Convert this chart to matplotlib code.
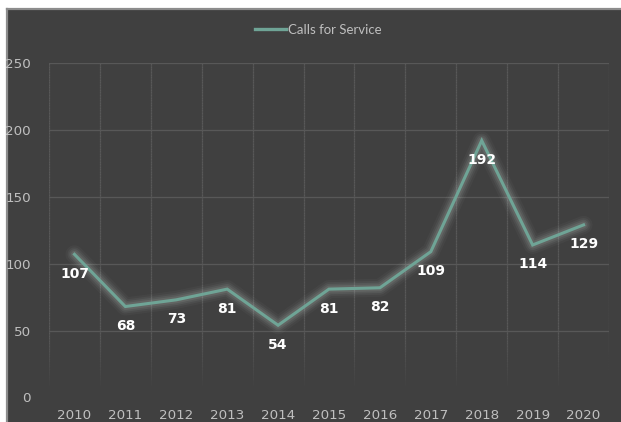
import matplotlib
matplotlib.use("Agg")
import matplotlib.pyplot as plt
from matplotlib.patches import Rectangle
from matplotlib.lines import Line2D
from matplotlib.collections import LineCollection
import numpy as np

years = ["2010", "2011", "2012", "2013", "2014", "2015",
         "2016", "2017", "2018", "2019", "2020"]
calls = [107, 68, 73, 81, 54, 81, 82, 109, 192, 114, 129]
y_ticks = [0, 50, 100, 150, 200, 250]

W, H = 621, 422
fig = plt.figure(figsize=(W / 100, H / 100), dpi=100, facecolor="white")

# dark chart panel with a light border on the left and top
px0, py1 = 7 / W, 1 - 9 / H
fig.patches.append(Rectangle((px0, 0), 1 - px0, py1, transform=fig.transFigure,
                             facecolor="#404040", edgecolor="none", zorder=-10))
fig.lines.append(Line2D([px0, px0], [0, py1], transform=fig.transFigure,
                        color="#8c8c8c", lw=1.6, zorder=-9))
fig.lines.append(Line2D([px0, 1], [py1, py1], transform=fig.transFigure,
                        color="#8c8c8c", lw=1.6, zorder=-9))

ax = fig.add_axes([49 / W, 1 - 397.5 / H, (609 - 49) / W, (397.5 - 63) / H])
ax.set_zorder(1)
ax.set_facecolor("none")
for s in ax.spines.values():
    s.set_visible(False)

x = np.arange(len(years))
ax.set_xlim(-0.5, len(years) - 0.5)
ax.set_ylim(0, 250)

grid_col = "#585858"
# horizontal gridlines
for yv in y_ticks[1:]:
    ax.axhline(yv, color=grid_col, lw=0.9, zorder=1)

# vertical category separators that fade out toward the bottom
ys = np.linspace(6, 250, 200)
for b in np.arange(-0.5, len(years), 1.0):
    segs = [[(b, ys[i]), (b, ys[i + 1])] for i in range(len(ys) - 1)]
    alphas = np.clip((ys[:-1] - 6) / 40, 0, 1)
    cols = [(0x58 / 255, 0x58 / 255, 0x58 / 255, a) for a in alphas]
    ax.add_collection(LineCollection(segs, colors=cols, lw=0.9, zorder=1))

# soft glow under the line
for w, a in [(13, 0.035), (10, 0.05), (7.5, 0.07), (5, 0.09)]:
    ax.plot(x, calls, color="#dfe9e5", lw=w, alpha=a, solid_capstyle="round",
            solid_joinstyle="round", zorder=2)
line_col = "#6fa496"
ax.plot(x, calls, color=line_col, lw=2.2, solid_joinstyle="miter", zorder=3,
        label="Calls for Service")

# value labels under each point
for xi, v in zip(x, calls):
    ax.annotate(str(v), (xi, v), xytext=(0, -14), textcoords="offset points",
                ha="center", va="center", color="white", fontsize=10,
                fontweight="bold", family="DejaVu Sans", zorder=4)

ax.set_xticks(x)
ax.set_xticklabels(years)
ax.set_yticks(y_ticks)
ax.tick_params(axis="both", length=0, colors="#bfbfbf", labelsize=9.7)
ax.tick_params(axis="x", pad=8)
ax.tick_params(axis="y", pad=13)

leg = fig.legend(handles=[Line2D([], [], color=line_col, lw=2.4)],
                 labels=["Calls for Service"], loc="center",
                 bbox_to_anchor=(318 / W, 1 - 29.5 / H), frameon=False,
                 handlelength=2.4, handletextpad=0.1,
                 labelcolor="#bfbfbf", prop={"family": "Lato", "size": 9.5})

fig.savefig("out.png", dpi=100, facecolor="white")
